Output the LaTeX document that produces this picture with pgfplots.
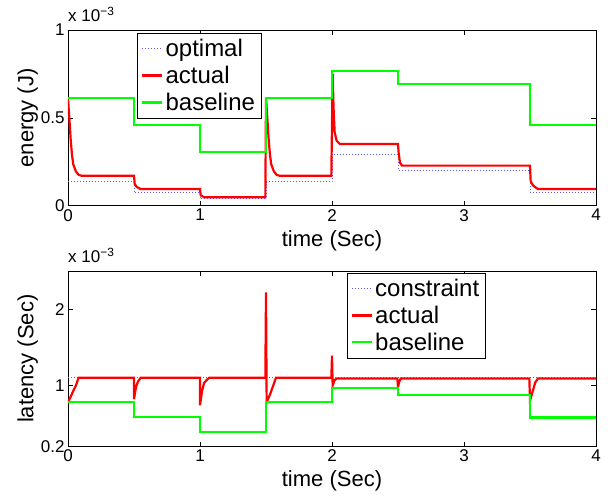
\documentclass[border=0pt]{standalone}
\usepackage{fontspec}
\setmainfont{Liberation Sans}
\usepackage{pgfplots}
\pgfplotsset{compat=1.18}
\definecolor{mgreen}{rgb}{0,1,0}
\definecolor{mred}{rgb}{1,0,0}
\definecolor{mblue}{rgb}{0.35,0.35,1}
\pgfplotsset{
  mstyle/.style={
    scale only axis, width=528pt,
    xmin=0, xmax=4, xtick={0,1,2,3,4},
    axis line style={black, line width=0.8pt},
    tick style={black, line width=0.6pt},
    major tick length=5pt,
    tick align=inside,
    tick label style={font=\fontsize{17}{20}\selectfont},
    label style={font=\fontsize{22}{26}\selectfont},
    /pgf/number format/assume math mode=true,
    legend style={draw=black, font=\fontsize{24}{28}\selectfont, inner xsep=4pt, inner ysep=4pt, row sep=4pt},
    legend cell align=left,
    legend image code/.code={\draw[#1] plot coordinates {(0pt,0pt) (10pt,0pt) (20pt,0pt)};},
    xlabel={time (Sec)},
    xlabel style={yshift=-2pt},
  },
  opt/.style={mblue, dotted, line width=1pt},
  act/.style={mred, line width=2.2pt},
  base/.style={mgreen, line width=2.2pt},
}
\begin{document}
\begin{tikzpicture}
\useasboundingbox (0,0) rectangle (616pt,499pt);
\begin{axis}[mstyle, at={(68pt,293.3pt)}, anchor=south west, height=175.7pt,
  ymin=0, ymax=1, ytick={0,0.5,1}, yticklabels={0,0.5,1},
  ylabel={energy (J)}, ylabel style={yshift=-4pt},
  legend style={at={(0.131,0.983)}, anchor=north west}]
\addplot[opt] coordinates {(0,0.137)(0.5,0.137)(0.5,0.076)(1,0.076)(1,0.042)(1.5,0.042)(1.5,0.137)(2,0.137)(2,0.293)(2.5,0.293)(2.5,0.198)(3.5,0.198)(3.5,0.076)(4,0.076)};
\addplot[act] coordinates {(0,0.611)(0.01,0.50)(0.02,0.38)(0.03,0.29)(0.04,0.235)(0.06,0.195)(0.08,0.176)(0.1,0.171)(0.5,0.171)(0.505,0.125)(0.52,0.107)(0.55,0.095)(1.0,0.095)(1.005,0.06)(1.03,0.048)(1.495,0.048)(1.5,0.611)(1.51,0.50)(1.52,0.38)(1.53,0.29)(1.54,0.235)(1.56,0.195)(1.58,0.176)(1.6,0.171)(1.995,0.171)(2.005,0.75)(2.012,0.55)(2.02,0.42)(2.035,0.37)(2.06,0.351)(2.5,0.351)(2.505,0.30)(2.515,0.245)(2.53,0.228)(3.5,0.228)(3.505,0.14)(3.52,0.118)(3.54,0.105)(3.56,0.095)(4,0.095)};
\addplot[base] coordinates {(0,0.611)(0.5,0.611)(0.5,0.459)(1,0.459)(1,0.306)(1.5,0.306)(1.5,0.611)(2,0.611)(2,0.767)(2.5,0.767)(2.5,0.691)(3.5,0.691)(3.5,0.459)(4,0.459)};
\legend{optimal,actual,baseline}
\end{axis}
\node[anchor=south west, font=\fontsize{17}{20}\selectfont, inner sep=0pt] at (68pt,477pt) {x 10\textsuperscript{−3}};
\begin{axis}[mstyle, at={(68pt,52.5pt)}, anchor=south west, height=175.5pt,
  ymin=0.2, ymax=2.5, ytick={0.2,1,2}, yticklabels={0.2,1,2},
  ylabel={latency (Sec)}, ylabel style={yshift=-4pt},
  legend style={at={(0.528,0.989)}, anchor=north west}]
\addplot[opt] coordinates {(0,1.11)(4,1.11)};
\addplot[act] coordinates {(0,0.78)(0.02,0.85)(0.04,0.93)(0.06,1.0)(0.08,1.1)(0.5,1.1)(0.5,0.82)(0.515,0.98)(0.53,1.05)(0.55,1.1)(1.0,1.1)(1.0,0.74)(1.015,0.92)(1.03,1.03)(1.05,1.07)(1.07,1.1)(1.495,1.1)(1.5,2.22)(1.505,0.78)(1.53,0.88)(1.555,1.0)(1.575,1.1)(1.995,1.1)(2.0,1.39)(2.005,1.0)(2.02,1.07)(2.035,1.09)(2.495,1.09)(2.5,0.98)(2.51,1.05)(2.52,1.09)(3.495,1.09)(3.5,0.8)(3.52,0.92)(3.54,1.04)(3.56,1.09)(4,1.09)};
\addplot[base] coordinates {(0,0.78)(0.5,0.78)(0.5,0.59)(1,0.59)(1,0.385)(1.5,0.385)(1.5,0.78)(2,0.78)(2,0.97)(2.5,0.97)(2.5,0.88)(3.5,0.88)(3.5,0.58)(4,0.58)};
\legend{constraint,actual,baseline}
\end{axis}
\node[anchor=south west, font=\fontsize{17}{20}\selectfont, inner sep=0pt] at (68pt,236pt) {x 10\textsuperscript{−3}};
\end{tikzpicture}
\end{document}
